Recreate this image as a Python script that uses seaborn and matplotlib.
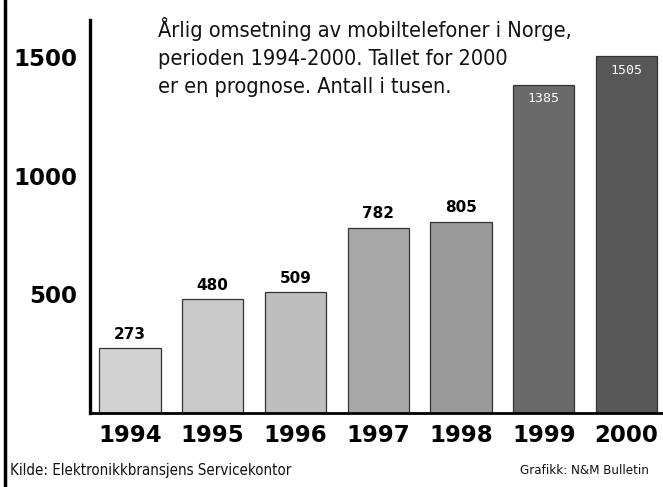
import matplotlib
matplotlib.use("Agg")
import matplotlib.pyplot as plt
import seaborn as sns
import pandas as pd
from matplotlib.lines import Line2D

years = ["1994", "1995", "1996", "1997", "1998", "1999", "2000"]
values = [273, 480, 509, 782, 805, 1385, 1505]
bar_colors = ["#d2d2d2", "#c9c9c9", "#bebebe", "#a8a8a8", "#9a9a9a", "#6a6a6a", "#575757"]
yticks = [500, 1000, 1500]

title_lines = ["Årlig omsetning av mobiltelefoner i Norge,",
               "perioden 1994-2000. Tallet for 2000",
               "er en prognose. Antall i tusen."]
source_text = "Kilde: Elektronikkbransjens Servicekontor"
credit_text = "Grafikk: N&M Bulletin"

sns.set_style("white")

df = pd.DataFrame({"year": years, "value": values})

fig = plt.figure(figsize=(6.63, 4.87), dpi=100)
W, H = 663, 487
ax = fig.add_axes([90 / W, 1 - 413 / H, (663 - 90) / W, (413 - 20) / H])

sns.barplot(data=df, x="year", y="value", hue="year", palette=bar_colors,
            legend=False, width=0.74, edgecolor="#333333", linewidth=0.9, ax=ax,
            saturation=1)

ax.set_xlim(-0.483, 6.44)
ax.set_ylim(0, 1658)
ax.set_xlabel("")
ax.set_ylabel("")

for s in ["top", "right"]:
    ax.spines[s].set_visible(False)
ax.spines["left"].set_linewidth(2.4)
ax.spines["bottom"].set_linewidth(2.0)
ax.spines["left"].set_color("black")
ax.spines["bottom"].set_color("black")

ax.set_yticks(yticks)
ax.set_yticklabels([str(t) for t in yticks], fontsize=16.5, fontweight="heavy")
ax.tick_params(axis="y", direction="in", length=9, width=2, pad=9, colors="black")
ax.tick_params(axis="x", length=0, pad=8)
for lab in ax.get_xticklabels():
    lab.set_fontsize(16.5)
    lab.set_fontweight("heavy")
    lab.set_color("black")
ax.set_xticks([i + 0.5 for i in range(6)], minor=True)
ax.tick_params(axis="x", which="minor", direction="in", length=6, width=1.5, colors="black")

for i, v in enumerate(values):
    if v > 1000:
        ax.text(i, v - 60, str(v), ha="center", va="center", color="white",
                fontsize=9.5, family="DejaVu Sans Mono")
    else:
        ax.text(i, v + 60, str(v), ha="center", va="center", color="black",
                fontsize=11, fontweight="bold")

for k, line in enumerate(title_lines):
    fig.text(158 / W, 1 - (37 + 28 * k) / H, line, ha="left", va="baseline",
             fontsize=15.6, family="DejaVu Sans", fontstretch="condensed",
             color="#111111")

fig.text(10 / W, 1 - 471 / H, source_text, ha="left", va="center", fontsize=10.8,
         family="DejaVu Sans", fontstretch="condensed", color="#111111")
fig.text(520 / W, 1 - 471 / H, credit_text, ha="left", va="center", fontsize=9.5,
         family="DejaVu Sans", fontstretch="condensed", color="#111111")

fig.add_artist(Line2D([5 / W, 5 / W], [0, 1], transform=fig.transFigure,
                      color="black", linewidth=2.5))

fig.savefig("out.png", dpi=100)
